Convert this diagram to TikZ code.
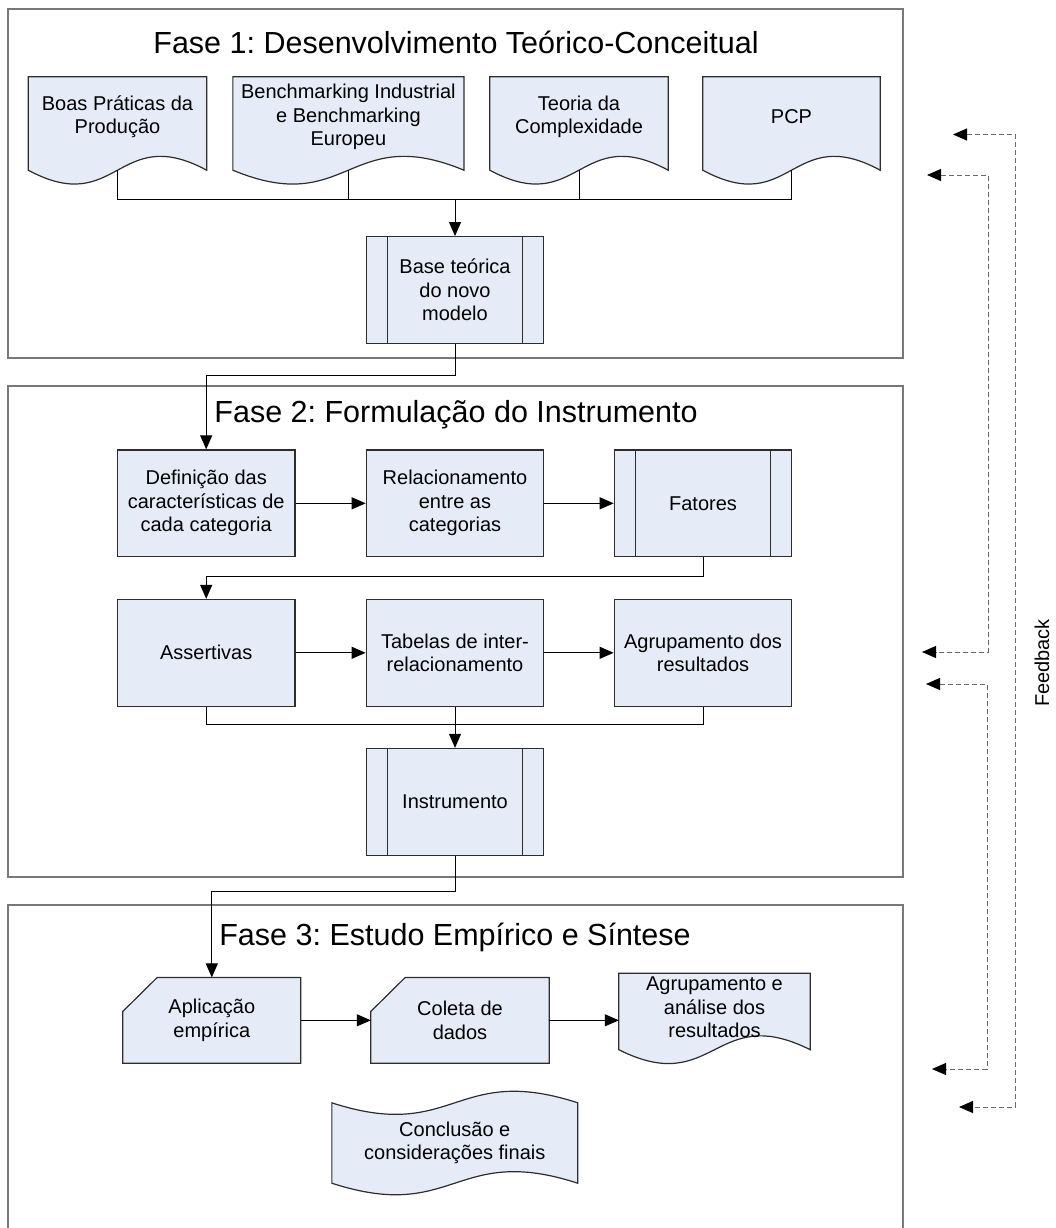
\documentclass[tikz,border=0pt]{standalone}
\usepackage{fontspec}
\setmainfont{Liberation Sans}
\frenchspacing
\usetikzlibrary{arrows.meta,calc,backgrounds}
\definecolor{boxfill}{RGB}{230,236,247}
\definecolor{boxline}{RGB}{45,45,45}
\definecolor{framegray}{RGB}{120,120,120}
\definecolor{fbgray}{RGB}{105,105,105}
\newcommand\sublines[1]{\draw[boxline,line width=1.2pt] ([xshift=21.5pt]#1.north west) -- ([xshift=21.5pt]#1.south west) ([xshift=-21.5pt]#1.north east) -- ([xshift=-21.5pt]#1.south east);}
\newcommand\docshape[3]{\filldraw[outline] ($(#1.north west)+(0,#2)$) -- ($(#1.south west)+(0,#3)$) .. controls ($(#1.south)+(0,#3+48)$) and ($(#1.south)+(0,#3-48)$) .. ($(#1.south east)+(0,#3)$) -- ($(#1.north east)+(0,#2)$) -- cycle;}
\newcommand\tapeshape[1]{\filldraw[outline] (#1.north west) .. controls ($(#1.north)+(0,40)$) and ($(#1.north)+(0,-40)$) .. (#1.north east) -- (#1.south east) .. controls ($(#1.south)+(0,-40)$) and ($(#1.south)+(0,40)$) .. (#1.south west) -- cycle;}
\newcommand\manualshape[1]{\filldraw[outline] ($(#1.north west)+(0,34)$) -- ($(#1.north west)+(34.4,0)$) -- (#1.north east) -- (#1.south east) -- (#1.south west) -- cycle;}
\begin{document}
\begin{tikzpicture}[x=1pt,y=-1pt,
    every node/.style={font={\fontsize{20}{23.5}\selectfont},align=center,inner sep=1pt},
    title/.style={font={\fontsize{30.5}{36}\selectfont},anchor=base},
    box/.style={draw=boxline,line width=1.2pt,fill=boxfill,minimum width=177.5pt,minimum height=106.7pt},
    docnode/.style={minimum width=178pt,minimum height=80pt},
    outline/.style={draw=boxline,line width=1.2pt,fill=boxfill},
    frame/.style={draw=framegray,line width=2pt},
    arr/.style={line width=1pt,-{Triangle[length=14pt,width=12pt]}},
    fbline/.style={fbgray,line width=1pt,dash pattern=on 5pt off 3pt,{Triangle[black,length=14pt,width=12pt]}-{Triangle[black,length=14pt,width=12pt]}}]
  \useasboundingbox (0,0) rectangle (1055,1228);

  \draw[frame] (7.5,9.3) rectangle (903,357.7);
  \draw[frame] (7.5,386) rectangle (903,876.7);
  \begin{scope}
    \clip (0,0) rectangle (1055,1228);
    \draw[frame] (7.5,1240) -- (7.5,905) -- (903,905) -- (903,1240);
  \end{scope}

  \node[title] (fase1) at (456,54) {Fase 1: Desenvolvimento Teórico-Conceitual};
  \node[title] (fase2) at (456,422) {Fase 2: Formulação do Instrumento};
  \node[title] (fase3) at (455,945) {Fase 3: Estudo Empírico e Síntese};

  \node[docnode] (prat) at (117.5,117) {Boas Práticas da\\Produção};
  \node[docnode,minimum width=230.7pt] (bench) at (348.4,117) {Benchmarking Industrial\\e Benchmarking\\Europeu};
  \node[docnode] (compl) at (579,117) {Teoria da\\Complexidade};
  \node[docnode,minimum width=177pt] (pcp) at (791.5,117) {PCP};
  \node[box] (base) at (455,290) {Base teórica\\do novo\\modelo};
  \sublines{base}

  \node[box] (defin) at (206.2,503.3) {Definição das\\características de\\cada categoria};
  \node[box] (relac) at (455,503.3) {Relacionamento\\entre as\\categorias};
  \node[box] (fator) at (703,503.3) {Fatores};
  \sublines{fator}
  \node[box] (assert) at (206.2,652.8) {Assertivas};
  \node[box] (tabel) at (455,652.8) {Tabelas de inter-\\relacionamento};
  \node[box] (agrup) at (703,652.8) {Agrupamento dos\\resultados};
  \node[box] (instr) at (455,801.8) {Instrumento};
  \sublines{instr}

  \node[minimum width=177.6pt,minimum height=85.3pt] (aplic) at (211.8,1020.3) {Aplicação\\empírica};
  \node[minimum width=178pt,minimum height=85.3pt] (colet) at (460,1020.3) {Coleta de\\dados};
  \node[minimum width=191pt,minimum height=63pt] (analis) at (714.5,1007.5) {Agrupamento e\\análise dos\\resultados};
  \node[minimum width=245.5pt,minimum height=80pt] (concl) at (454.8,1143) {Conclusão e\\considerações finais};

  \begin{scope}[on background layer]
    \docshape{prat}{0}{13}
    \docshape{bench}{0}{13}
    \docshape{compl}{0}{13}
    \docshape{pcp}{0}{13}
    \manualshape{aplic}
    \manualshape{colet}
    \docshape{analis}{-2.5}{10.5}
    \tapeshape{concl}
  \end{scope}

  \coordinate (bus1) at (455,199.3);
  \draw[line width=1pt] ($(prat.south)+(0,13)$) |- (bus1) -| ($(pcp.south)+(0,13)$);
  \draw[line width=1pt] ($(bench.south)+(0,13)$) -- (bench.south |- bus1);
  \draw[line width=1pt] ($(compl.south)+(0,13)$) -- (compl.south |- bus1);
  \draw[arr] (bus1) -- (base);
  \draw[arr] (base.south) -- ++(0,31.7) -| (defin.north);
  \draw[arr] (defin) -- (relac);
  \draw[arr] (relac) -- (fator);
  \draw[arr] (fator.south) -- ++(0,19) -| (assert.north);
  \draw[arr] (assert) -- (tabel);
  \draw[arr] (tabel) -- (agrup);
  \draw[line width=1pt] (assert.south) -- ++(0,17.3) -| (agrup.south);
  \draw[arr] (tabel) -- (instr);
  \draw[arr] (instr.south) -- ++(0,35.4) -| (aplic.north);
  \draw[arr] (aplic) -- (colet);
  \draw[arr] (colet) -- (colet -| analis.west);

  \coordinate (fb1) at (953,134.5);
  \coordinate (fb2) at (959,1107);
  \coordinate (fb3) at (927,175);
  \coordinate (fb4) at (922,652);
  \coordinate (fb5) at (926,684);
  \coordinate (fb6) at (932,1069);
  \draw[fbline] (fb1) -- (1015,134.5) |- (fb2);
  \draw[fbline] (fb3) -- (988,175) |- (fb4);
  \draw[fbline] (fb5) -- (987,684) |- (fb6);
  \node[rotate=90] (feedback) at (1042,663) {Feedback};
\end{tikzpicture}
\end{document}
